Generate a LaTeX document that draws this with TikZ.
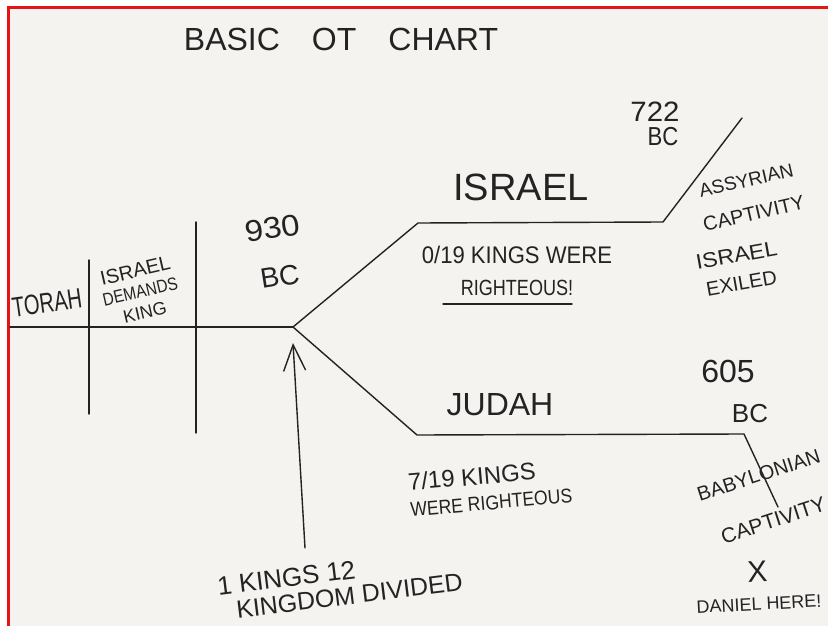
\documentclass[tikz,border=0pt]{standalone}
\usepackage{fontspec}
\setmainfont{Liberation Sans}
\usetikzlibrary{arrows.meta}
\definecolor{paper}{RGB}{244,243,240}
\definecolor{ink}{RGB}{35,35,35}
\definecolor{frame}{RGB}{230,20,20}
\newcommand\hw[3]{\scalebox{#2}[1]{\fontsize{#1}{#1}\selectfont #3}}
\newcommand\lsp[1]{\fontsize{10}{#1}\selectfont}
\begin{document}
\begin{tikzpicture}[x=1pt,y=-1pt,
  hand/.style={inner sep=0pt,text=ink,anchor=center,align=center},
  pen/.style={draw=ink,line width=1.4pt,line cap=round,line join=round},
  border/.style={draw=frame,line width=3pt}]
\useasboundingbox (0,0) rectangle (828,626);
\fill[white] (0,0) rectangle (828,626);
\fill[paper] (8,8) rectangle (828,626);
\draw[border] (8,626) -- (8,8) -- (828,8);

% timeline points
\coordinate (start) at (10,327);
\coordinate (branch) at (293,327);
\coordinate (v1t) at (89,260);  \coordinate (v1b) at (89,414);
\coordinate (v2t) at (196,222); \coordinate (v2b) at (196,433);
\coordinate (isrA) at (418,223); \coordinate (isrB) at (663,222); \coordinate (isrC) at (742,118);
\coordinate (judA) at (417,435); \coordinate (judB) at (744,434); \coordinate (judC) at (778,507);
\coordinate (arrT) at (305,548); \coordinate (arrH) at (293,343);
\coordinate (ulA) at (443,304); \coordinate (ulB) at (572,304);

\draw[pen] (start) -- (branch);
\draw[pen] (v1t) -- (v1b);
\draw[pen] (v2t) -- (v2b);
\draw[pen] (branch) -- (isrA) -- (isrB) -- (isrC);
\draw[pen] (branch) -- (judA) -- (judB) -- (judC);
\draw[pen,-{Straight Barb[length=26pt,width=22pt,line width=1.4pt]}] (arrT) -- (arrH);
\draw[pen] (ulA) -- (ulB);

% texts
\node[hand] (title) at (341,39) {\hw{32}{1}{BASIC\quad OT\quad CHART}};
\node[hand,rotate=8] (torah) at (47,303) {\hw{28}{0.72}{TORAH}};
\node[hand,rotate=13,font=\lsp{21}] (demands) at (140,291)
  {\hw{20}{1}{ISRAEL}\\\hw{18}{0.85}{DEMANDS}\\\hw{18}{1}{KING}};
\node[hand,rotate=9,font=\lsp{48}] (y930) at (276,252) {\hw{30}{1.1}{930}\\\hw{28}{1}{BC}};
\node[hand] (israel) at (521,187) {\hw{38}{1}{ISRAEL}};
\node[hand,font=\lsp{32}] (isk) at (517,271) {\hw{24}{0.92}{0/19 KINGS WERE}\\\hw{22}{0.82}{RIGHTEOUS!}};
\node[hand] (y722) at (655,112) {\hw{28}{1.05}{722}};
\node[hand] (bc722) at (663,137) {\hw{26}{0.85}{BC}};
\node[hand,rotate=13,font=\lsp{34}] (assyr) at (750,197) {\hw{19}{1}{ASSYRIAN}\\\hw{20}{1}{CAPTIVITY}};
\node[hand,rotate=10,font=\lsp{28}] (exiled) at (739,269) {\hw{21}{1.1}{ISRAEL}\\\hw{20}{1}{EXILED}};
\node[hand] (judah) at (500,405) {\hw{32}{1}{JUDAH}};
\node[hand,rotate=5,align=left,font=\lsp{26}] (jk) at (490,488) {\hw{24}{1}{7/19 KINGS}\\\hw{20}{0.88}{WERE RIGHTEOUS}};
\node[hand] (y605) at (728,371) {\hw{32}{1}{605}};
\node[hand] (bc605) at (750,414) {\hw{26}{1}{BC}};
\node[hand,rotate=18,font=\lsp{48}] (babylon) at (766,498) {\hw{20}{1}{BABYLONIAN}\\\hw{21}{1}{CAPTIVITY}};
\node[hand,rotate=3,font=\lsp{28}] (daniel) at (758,586) {\hw{30}{1}{X}\\\hw{18}{1}{DANIEL HERE!}};
\node[hand,rotate=7,align=left,font=\lsp{25}] (kings) at (340,584) {\hw{26}{1}{1 KINGS 12}\\\hspace{16pt}\hw{25}{1}{KINGDOM DIVIDED}};
\end{tikzpicture}
\end{document}
